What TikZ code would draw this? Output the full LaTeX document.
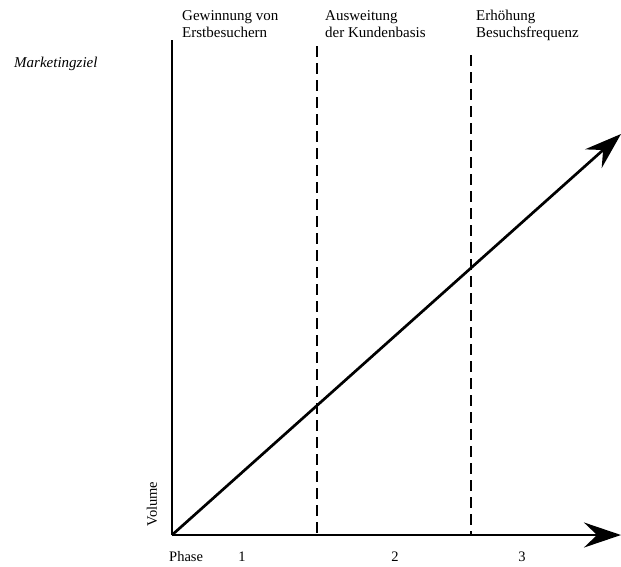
\documentclass[tikz,border=0pt]{standalone}
\usepackage{fontspec}
\setmainfont{Liberation Serif}
\usetikzlibrary{arrows.meta}
\begin{document}
\begin{tikzpicture}[x=1pt,y=-1pt,
  axis/.style={line width=2.7pt},
  bigarrow/.style={axis,-{Stealth[length=37pt,width=25pt,inset=13pt]}},
  divider/.style={line width=1.5pt,dash pattern=on 11pt off 6pt},
  lbl/.style={font=\fontsize{15}{17}\selectfont,align=left,anchor=base west,inner sep=0pt},
  num/.style={font=\fontsize{14.5}{16}\selectfont,inner sep=0pt,anchor=base}]
\useasboundingbox (0,0) rectangle (621,566);
\coordinate (O) at (172,535);
\coordinate (ytop) at (172,40);
\coordinate (xend) at (621,535);
\coordinate (dend) at (621,134);
\coordinate (d1t) at (317,46);
\coordinate (d1b) at (317,535);
\coordinate (d2t) at (471,55);
\coordinate (d2b) at (471,535);
\draw[divider] (d1t) -- (d1b);
\draw[divider] (d2t) -- (d2b);
\draw[axis] (O) -- (ytop);
\draw[bigarrow] (O) -- (xend);
\draw[bigarrow] (O) -- (dend);
\node[font=\fontsize{15}{17}\selectfont\itshape,anchor=base west,inner sep=0pt] (mz) at (14,67) {Marketingziel};
\node[lbl] (p1) at (182,37) {Gewinnung von\\Erstbesuchern};
\node[lbl] (p2) at (325,37) {Ausweitung\\der Kundenbasis};
\node[lbl] (p3) at (476,37) {Erhöhung\\Besuchsfrequenz};
\node[font=\fontsize{14.5}{16}\selectfont,inner sep=0pt,rotate=90] (vol) at (152,504) {Volume};
\node[num,anchor=base west] (ph) at (169,561) {Phase};
\node[num] (n1) at (242,561) {1};
\node[num] (n2) at (395,561) {2};
\node[num] (n3) at (522,561) {3};
\end{tikzpicture}
\end{document}
